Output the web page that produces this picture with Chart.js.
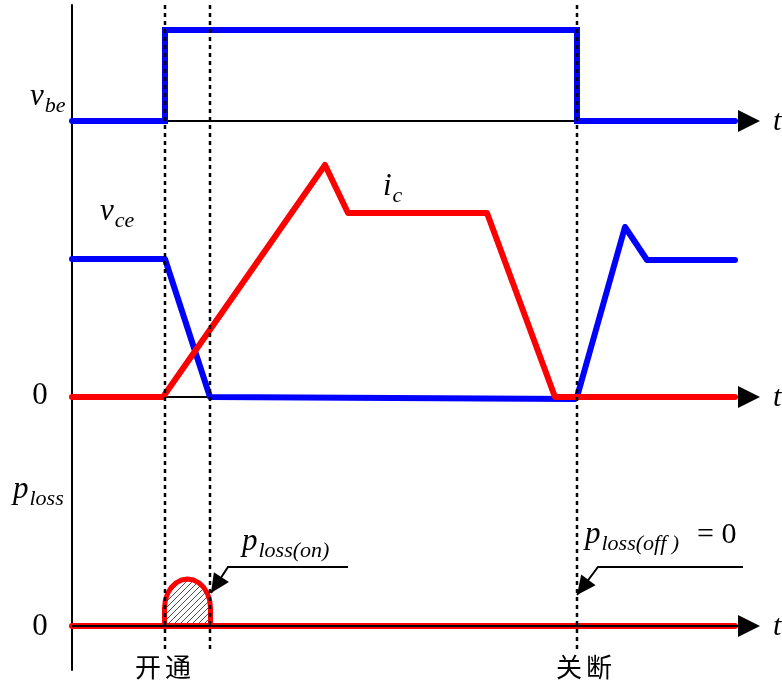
<!DOCTYPE html>
<html>
<head>
<meta charset="utf-8">
<script src="https://cdn.jsdelivr.net/npm/chart.js@4.4.1/dist/chart.umd.min.js"></script>
<style>
  html, body { margin: 0; padding: 0; background: #fff; }
</style>
</head>
<body>
<canvas id="chart" width="782" height="683"></canvas>
<script>
// time axis (t = 0 at the vertical axis)
const tOn = 93, tOnEnd = 138, tOff = 505, tEnd = 663;

// panel baselines (same y units as the signals)
const TOP = 505, MID = 229, BOT = 0;

// v_be
const vbeT = [0, 93, 93, 505, 505, 663];
const vbeV = [0, 0, 91, 91, 0, 0];

// v_ce
const vceT = [0, 93, 138, 503, 505, 553, 575, 663];
const vceV = [138, 138, 0, -2, 0, 170, 137, 137];

// i_c
const icT = [0, 91, 253, 276, 415, 483, 663];
const icV = [0, 0, 232, 184, 184, 0, 0];

// p_loss (flat line + turn-on bump)
const plossT = [0, 663];
const plossV = [0, 0];
const bumpT = [92.5, 92.5, 93.3, 95.6, 99.2, 104, 109.5, 115.5, 121.5, 127, 131.8, 135.4, 137.7, 138.5, 138.5];
const bumpV = [0, 18, 25.5, 32.5, 38.5, 43.1, 46, 47, 46, 43.1, 38.5, 32.5, 25.5, 18, 0];

// annotation arrows (last point = tip)
const arrowOnT = [276, 156, 139];
const arrowOnV = [59, 59, 33];
const arrowOffT = [671, 526, 505];
const arrowOffV = [59, 59, 31];

const pts = (ts, vs, off) => ts.map((t, i) => ({ x: t, y: vs[i] + off }));

// hatch pattern for the turn-on loss area
const pc = document.createElement("canvas");
pc.width = 6; pc.height = 6;
const pctx = pc.getContext("2d");
pctx.strokeStyle = "#222";
pctx.lineWidth = 0.8;
pctx.beginPath();
pctx.moveTo(0, 6); pctx.lineTo(6, 0);
pctx.moveTo(-1, 1); pctx.lineTo(1, -1);
pctx.moveTo(5, 7); pctx.lineTo(7, 5);
pctx.stroke();
const ctxMain = document.getElementById("chart").getContext("2d");
const hatch = ctxMain.createPattern(pc, "repeat");

const line = (data, color, width, order, extra) => Object.assign({
  data: data,
  showLine: true,
  borderColor: color,
  borderWidth: width,
  pointRadius: 0,
  tension: 0,
  fill: false,
  borderCapStyle: "round",
  borderJoinStyle: "round",
  order: order,
}, extra || {});

const axisLen = 666;
const datasets = [
  // axes
  line([{ x: 0, y: 621 }, { x: 0, y: -44 }], "#000", 2, 6, { borderCapStyle: "butt" }),
  line([{ x: 0, y: TOP }, { x: axisLen, y: TOP }], "#000", 2, 6, { borderCapStyle: "butt" }),
  line([{ x: 0, y: MID }, { x: axisLen, y: MID }], "#000", 2, 6, { borderCapStyle: "butt" }),
  line([{ x: 0, y: BOT }, { x: axisLen, y: BOT }], "#000", 2, 1, { borderCapStyle: "butt" }),
  // signals
  line(pts(vbeT, vbeV, TOP), "#0000ff", 6, 2, { borderJoinStyle: "miter" }),
  line(pts(vceT, vceV, MID), "#0000ff", 6, 3),
  line(pts(icT, icV, MID), "#ff0000", 6, 2),
  line(pts(plossT, plossV, BOT), "#ff0000", 6, 3),
  line(pts(bumpT, bumpV, BOT), "#ff0000", 5, 3, { fill: "origin", backgroundColor: hatch }),
  // switching instants
  ...[tOn, tOnEnd, tOff].map((t) =>
    line([{ x: t, y: 621 }, { x: t, y: -26 }], "#000", 2.5, 0, { borderDash: [4, 4], borderCapStyle: "butt" })),
  // arrows
  line(pts(arrowOnT, arrowOnV, BOT), "#000", 2, 0, { borderCapStyle: "butt", borderJoinStyle: "miter" }),
  line(pts(arrowOffT, arrowOffV, BOT), "#000", 2, 0, { borderCapStyle: "butt", borderJoinStyle: "miter" }),
];

const serif = "'Liberation Serif', 'DejaVu Serif', serif";
const symLabels = [
  { t: -42, v: 521, main: "v", sub: "be" },
  { t: 28, v: 406, main: "v", sub: "ce" },
  { t: 311, v: 431, main: "i", sub: "c" },
  { t: -59, v: 128, main: "p", sub: "loss" },
  { t: 170, v: 76, main: "p", sub: "loss(on)" },
  { t: 513, v: 83, main: "p", sub: "loss(off )", tail: "= 0", tailT: 625 },
];

const drawPlugin = {
  id: "decor",
  afterDatasetsDraw(chart) {
    const { ctx, scales: { x, y } } = chart;
    ctx.save();
    ctx.fillStyle = "#000";

    // axis arrowheads
    [TOP, MID, BOT].forEach((b) => {
      const py = y.getPixelForValue(b);
      ctx.beginPath();
      ctx.moveTo(x.getPixelForValue(axisLen), py - 11);
      ctx.lineTo(x.getPixelForValue(688), py);
      ctx.lineTo(x.getPixelForValue(axisLen), py + 11);
      ctx.closePath();
      ctx.fill();
    });

    // annotation arrowheads
    [[arrowOnT, arrowOnV], [arrowOffT, arrowOffV]].forEach(([ts, vs]) => {
      const n = ts.length;
      const tx = x.getPixelForValue(ts[n - 1]), ty = y.getPixelForValue(vs[n - 1]);
      const fx = x.getPixelForValue(ts[n - 2]), fy = y.getPixelForValue(vs[n - 2]);
      const a = Math.atan2(ty - fy, tx - fx);
      const L = 19, W = 9;
      const bx = tx - L * Math.cos(a), by = ty - L * Math.sin(a);
      ctx.beginPath();
      ctx.moveTo(tx, ty);
      ctx.lineTo(bx + W * Math.sin(a), by - W * Math.cos(a));
      ctx.lineTo(bx - W * Math.sin(a), by + W * Math.cos(a));
      ctx.closePath();
      ctx.fill();
    });

    ctx.textBaseline = "alphabetic";
    ctx.textAlign = "left";
    symLabels.forEach((l) => {
      const px = x.getPixelForValue(l.t), py = y.getPixelForValue(l.v);
      ctx.font = "italic 31px " + serif;
      ctx.fillText(l.main, px, py);
      const w = ctx.measureText(l.main).width;
      ctx.font = "italic 22px " + serif;
      ctx.fillText(l.sub, px + w + 1, py + 7);
      if (l.tail) {
        ctx.font = "30px " + serif;
        ctx.fillText(l.tail, x.getPixelForValue(l.tailT), py);
      }
    });

    // zero labels
    ctx.font = "31px " + serif;
    ctx.textAlign = "center";
    ctx.fillText("0", x.getPixelForValue(-32), y.getPixelForValue(MID - 7));
    ctx.fillText("0", x.getPixelForValue(-32), y.getPixelForValue(BOT - 9));

    // time labels
    ctx.font = "italic 30px " + serif;
    ctx.textAlign = "left";
    [TOP, MID, BOT].forEach((b) => {
      ctx.fillText("t", x.getPixelForValue(701), y.getPixelForValue(b - 9));
    });

    // switching event labels (wide character spacing as in the source)
    ctx.font = "26px 'Noto Sans CJK SC', sans-serif";
    ctx.textAlign = "center";
    ctx.textBaseline = "middle";
    [["开通", 91], ["关断", 512]].forEach(([txt, t]) => {
      const cx = x.getPixelForValue(t), cy = y.getPixelForValue(-41);
      ctx.fillText(txt[0], cx - 15, cy);
      ctx.fillText(txt[1], cx + 15, cy);
    });
    ctx.restore();
  },
};

new Chart(ctxMain, {
  type: "scatter",
  data: { datasets: datasets },
  options: {
    responsive: false,
    animation: false,
    layout: { padding: 0 },
    plugins: { legend: { display: false }, tooltip: { enabled: false } },
    scales: {
      x: { type: "linear", min: -72, max: 710, display: false },
      y: { type: "linear", min: -57, max: 626, display: false },
    },
  },
  plugins: [drawPlugin],
});
</script>
</body>
</html>
